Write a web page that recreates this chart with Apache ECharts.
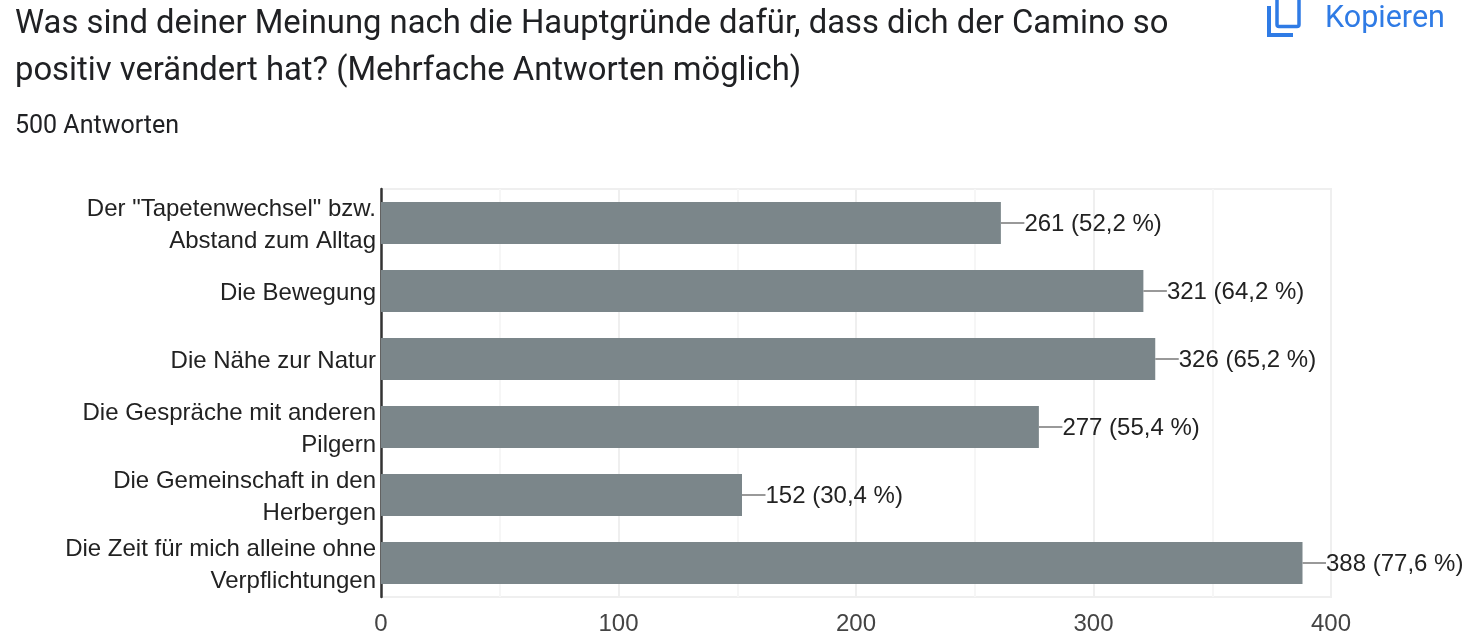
<!DOCTYPE html>
<html><head><meta charset="utf-8">
<style>html,body{margin:0;padding:0;background:#fff}#c{width:1475px;height:641px}</style>
<script src="https://cdn.jsdelivr.net/npm/echarts@6/dist/echarts.min.js"></script>
</head><body><div id="c"></div>
<script>
const categories = ['Der "Tapetenwechsel" bzw.\nAbstand zum Alltag','Die Bewegung','Die Nähe zur Natur','Die Gespräche mit anderen\nPilgern','Die Gemeinschaft in den\nHerbergen','Die Zeit für mich alleine ohne\nVerpflichtungen'];
const counts = [261,321,326,277,152,388];
const percents = ['52,2','64,2','65,2','55,4','30,4','77,6'];
const xTicks = [0,100,200,300,400];
const titleLines = 'Was sind deiner Meinung nach die Hauptgründe dafür, dass dich der Camino so\npositiv verändert hat? (Mehrfache Antworten möglich)';
const subtitle = '500 Antworten';
const copyLabel = 'Kopieren';

const chart = echarts.init(document.getElementById('c'),null,{renderer:'canvas'});
chart.setOption({
  animation:false,
  backgroundColor:'#fff',
  title:[
    {text:titleLines,left:10,top:-4,textStyle:{fontFamily:'Roboto',fontSize:32.8,fontWeight:400,color:'#202124',lineHeight:47}},
    {text:subtitle,left:10,top:109,textStyle:{fontFamily:'Roboto',fontSize:25,fontWeight:400,color:'#202124',lineHeight:26}},
    {text:copyLabel,left:1320,top:-2,textStyle:{fontFamily:'Roboto',fontSize:30.5,fontWeight:400,color:'#2f7be5',lineHeight:32}}
  ],
  graphic:[
    {type:'rect',shape:{x:1277,y:-8,width:22,height:34.5,r:2},style:{fill:'none',stroke:'#2f7be5',lineWidth:3.5}},
    {type:'polyline',shape:{points:[[1269,6],[1269,35],[1293,35]]},style:{fill:'none',stroke:'#2f7be5',lineWidth:4}}
  ],
  grid:{left:381,top:189,width:950,height:408,show:true,borderColor:'#efefef',borderWidth:2,backgroundColor:'transparent',containLabel:false},
  xAxis:{type:'value',min:xTicks[0],max:xTicks[xTicks.length-1],interval:100,
    axisLine:{show:false},axisTick:{show:false},
    axisLabel:{fontFamily:'Liberation Sans',fontSize:24,color:'#444',margin:15,hideOverlap:false},
    splitLine:{show:true,lineStyle:{color:'#efefef',width:2}},
    minorTick:{show:false,splitNumber:2},
    minorSplitLine:{show:true,lineStyle:{color:'#f6f6f6',width:2}}},
  yAxis:{type:'category',inverse:true,data:categories,
    axisLine:{show:true,onZero:false,lineStyle:{color:'#333',width:2.5}},axisTick:{show:false},
    axisLabel:{interval:0,showMinLabel:true,showMaxLabel:true,hideOverlap:false,margin:5,align:'right',lineHeight:32,
      formatter:v=>v.split('\n').map(s=>'{a|'+s+'}').join('\n'),
      rich:{a:{fontFamily:'Liberation Sans',fontSize:24,color:'#222',lineHeight:32,padding:[4,0,0,0]}}},
    splitLine:{show:false}},
  series:[{type:'bar',data:counts,barWidth:42,itemStyle:{color:'#7b868a'},z:3,
    label:{show:true,position:'right',distance:0,lineHeight:32,
      formatter:p=>'{a|'+counts[p.dataIndex]+' ('+percents[p.dataIndex]+' %)}',
      rich:{a:{fontFamily:'Liberation Sans',fontSize:24,color:'#222',lineHeight:32,padding:[2,0,0,0]}}},
    labelLayout:{dx:23.5},
    labelLine:{show:true,lineStyle:{color:'#999',width:2}}
  }]
});
</script></body></html>
